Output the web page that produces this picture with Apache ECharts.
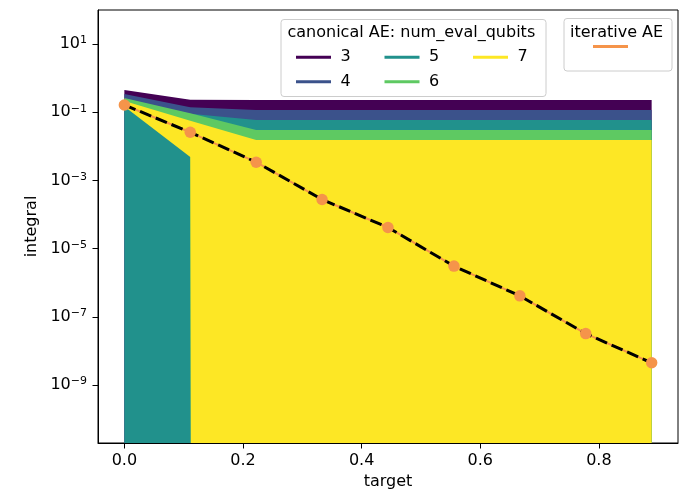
<!DOCTYPE html>
<html><head><meta charset="utf-8">
<script src="https://cdn.jsdelivr.net/npm/echarts@6/dist/echarts.min.js"></script>
<style>html,body{margin:0;padding:0;background:#fff}#c{width:683px;height:493px}</style>
</head><body><div id="c"></div>
<script>
// ---- data ----
const targets = [0, 0.1111, 0.2222, 0.3333, 0.4444, 0.5556, 0.6667, 0.7778, 0.8889];
const qubitLabels = ['3', '4', '5', '6', '7'];
const upper3 = [0.451, 0.235, 0.230, 0.230, 0.230, 0.230, 0.230, 0.230, 0.230];
const lower3 = [0, 0, 0, 0, 0, 0, 0, 0, 0];
const upper4 = [0.344, 0.140, 0.117, 0.117, 0.117, 0.117, 0.117, 0.117, 0.117];
const lower4 = [0, 0, 0, 0, 0, 0, 0, 0, 0];
const upper5 = [0.23, 0.09, 0.0594, 0.0594, 0.0594, 0.0594, 0.0594, 0.0594, 0.0594];
const lower5 = [0, 0, 0, 0, 0, 0, 0, 0, 0];
const upper6 = [0.263, 0.0935, 0.0303, 0.0303, 0.0303, 0.0303, 0.0303, 0.0303, 0.0303];
const lower6 = [0.17, 0.006, 0, 0, 0, 0, 0, 0, 0];
const upper7 = [0.214, 0.0568, 0.0154, 0.0154, 0.0154, 0.0154, 0.0154, 0.0154, 0.0154];
const lower7 = [0.148, 0.0049, 0, 0, 0, 0, 0, 0, 0];
const iterativeAE = [0.164, 0.0259, 0.00344, 2.77e-4, 4.19e-5, 3.09e-6, 4.13e-7, 3.24e-8, 4.5e-9];
const xTickValues = [0, 0.2, 0.4, 0.6, 0.8];
const yTickExponents = [-9, -7, -5, -3, -1, 1];
const legendTitleCanonical = 'canonical AE: num_eval_qubits';
const legendTitleIterative = 'iterative AE';

// ---- styles ----
const FONT = 'DejaVu Sans';
const palette = ['#440154', '#3b528b', '#21918c', '#5ec962', '#fde725'];
const orange = '#f5944a';
const uppers = [upper3, upper4, upper5, upper6, upper7];
const lowers = [lower3, lower4, lower5, lower6, lower7];
// matplotlib clips non-positive values on a log axis to a huge negative exponent
const toLog = v => v > 0 ? Math.log10(v) : -1000;

const series = [];
qubitLabels.forEach((lab, k) => {
  const lo = lowers[k], up = uppers[k];
  // data stored as [logValue, target] so that the stacked dimension is the value one
  series.push({
    name: lab + '_lower', type: 'line', stack: 'band' + lab, stackStrategy: 'all',
    data: targets.map((x, i) => [toLog(lo[i]), x]), encode: { x: 1, y: 0 },
    symbol: 'none', lineStyle: { width: 0, opacity: 0 }, silent: true, z: 2
  });
  series.push({
    name: lab, type: 'line', stack: 'band' + lab, stackStrategy: 'all',
    data: targets.map((x, i) => [toLog(up[i]) - toLog(lo[i]), x]), encode: { x: 1, y: 0 },
    symbol: 'none', lineStyle: { width: 0, opacity: 0 },
    itemStyle: { color: palette[k] },
    areaStyle: { color: palette[k], opacity: 1 }, silent: true, z: 2
  });
});
const iterLog = targets.map((x, i) => [x, toLog(iterativeAE[i])]);
series.push({
  name: 'iterative AE', type: 'line', data: iterLog, symbol: 'none',
  itemStyle: { color: orange }, lineStyle: { color: orange, width: 2 }, silent: true, z: 3
});
series.push({
  name: 'iterative_dash', type: 'line', data: iterLog, symbol: 'none',
  lineStyle: { color: '#000', width: 3, type: [12, 5] }, silent: true, z: 4
});
series.push({
  name: 'iterative_pts', type: 'scatter', data: iterLog, symbolSize: 11.5,
  itemStyle: { color: orange, opacity: 1 }, silent: true, z: 5
});

const icon = 'path://M0,0L35,0L35,3L0,3ZM39.5,0L39.5,3';
function legendItem(name, color, left, centerY, showText) {
  return {
    data: [{ name: name, icon: icon, itemStyle: { color: color, borderWidth: 0 } }],
    left: left, top: centerY - 10, padding: 0, orient: 'horizontal',
    itemWidth: 39.5, itemHeight: 3, symbolKeepAspect: false, selectedMode: false,
    formatter: showText ? '{name}' : () => '',
    textStyle: { fontSize: 16, color: '#000', fontFamily: FONT, lineHeight: 20 },
    z: 10
  };
}
const legends = [
  legendItem('3', palette[0], 296, 57.3, true),
  legendItem('4', palette[1], 296, 81.7, true),
  legendItem('5', palette[2], 384.5, 57.3, true),
  legendItem('6', palette[3], 384.5, 81.7, true),
  legendItem('7', palette[4], 473, 57.3, true),
  legendItem('iterative AE', orange, 593, 55, false)
];

const chart = echarts.init(document.getElementById('c'), null, { renderer: 'canvas' });
chart.setOption({
  animation: false,
  textStyle: { fontFamily: FONT },
  grid: { left: 98, right: 5, top: 10, bottom: 50, containLabel: false, outerBoundsMode: 'none',
          show: true, borderColor: '#000', borderWidth: 1, backgroundColor: 'transparent' },
  xAxis: {
    type: 'value', min: -0.04444, max: 0.93333, z: 10,
    axisLine: { show: true, onZero: false, lineStyle: { color: '#000', width: 1 } },
    axisTick: { show: true, length: 5.5, lineStyle: { color: '#000' }, customValues: xTickValues },
    axisLabel: { customValues: xTickValues, formatter: v => v.toFixed(1), fontSize: 16, color: '#000', margin: 10, fontFamily: FONT },
    splitLine: { show: false },
    name: 'target', nameLocation: 'middle', nameGap: 31,
    nameTextStyle: { fontSize: 16, color: '#000', fontFamily: FONT }
  },
  yAxis: {
    type: 'value', min: Math.log10(2e-11), max: 2, z: 10,
    axisLine: { show: true, onZero: false, lineStyle: { color: '#000', width: 1 } },
    axisTick: { show: true, length: 5.5, lineStyle: { color: '#000' }, customValues: yTickExponents },
    axisLabel: {
      customValues: yTickExponents, margin: 11,
      formatter: v => { const e = Math.round(v); return '{b|10}{s|' + (e < 0 ? '\u2212' : '') + Math.abs(e) + '}'; },
      rich: {
        b: { fontSize: 16, color: '#000', fontFamily: FONT, lineHeight: 18, verticalAlign: 'middle' },
        s: { fontSize: 11, color: '#000', fontFamily: FONT, lineHeight: 11, verticalAlign: 'top' }
      }
    },
    splitLine: { show: false },
    name: 'integral', nameLocation: 'middle', nameGap: 43,
    nameTextStyle: { fontSize: 16, color: '#000', fontFamily: FONT }
  },
  legend: legends,
  graphic: [
    { type: 'rect', z: 9, shape: { x: 281, y: 19.5, width: 265, height: 77, r: 3 },
      style: { fill: 'rgba(255,255,255,0.8)', stroke: '#cccccc', lineWidth: 1 }, silent: true },
    { type: 'rect', z: 9, shape: { x: 564, y: 18.5, width: 108, height: 52.5, r: 3 },
      style: { fill: 'rgba(255,255,255,0.8)', stroke: '#cccccc', lineWidth: 1 }, silent: true },
    { type: 'text', z: 10, x: 287.5, y: 33,
      style: { text: legendTitleCanonical, fill: '#000', font: '16px "DejaVu Sans"', align: 'left', verticalAlign: 'middle', textAlign: 'left', textVerticalAlign: 'middle' }, silent: true },
    { type: 'text', z: 10, x: 570, y: 33,
      style: { text: legendTitleIterative, fill: '#000', font: '16px "DejaVu Sans"', align: 'left', verticalAlign: 'middle', textAlign: 'left', textVerticalAlign: 'middle' }, silent: true }
  ],
  series: series
});
</script></body></html>
